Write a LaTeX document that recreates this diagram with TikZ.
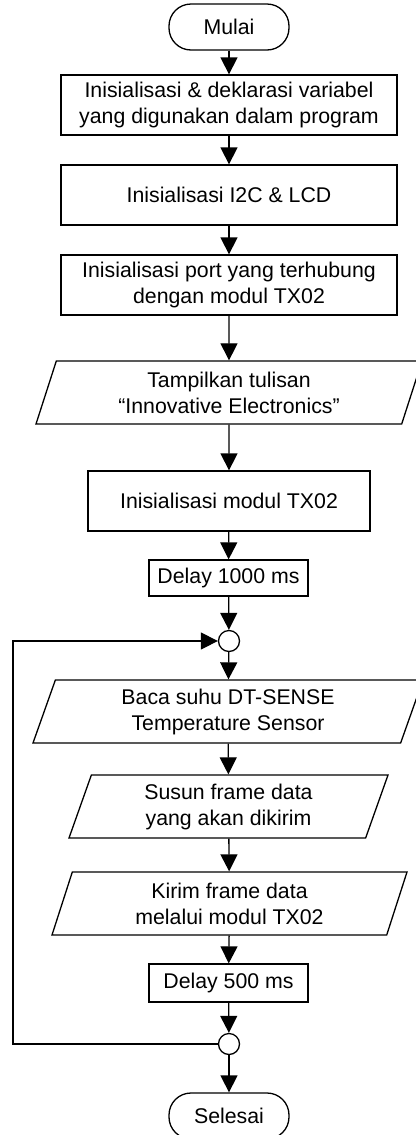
\documentclass[tikz,border=0pt]{standalone}
\usepackage{fontspec}
\setmainfont{Liberation Sans}
\usetikzlibrary{arrows.meta,shapes.geometric}
\begin{document}
\begin{tikzpicture}[x=1bp,y=-1bp,
  every node/.style={font=\fontsize{21.3bp}{26bp}\selectfont, align=center, inner sep=0pt, line width=1.3bp},
  proc/.style={draw, rectangle, minimum height=60bp},
  io/.style={draw, trapezium, trapezium left angle=64, trapezium right angle=116,
             trapezium stretches body, minimum height=63bp},
  term/.style={draw, rectangle, rounded corners=22bp, minimum width=120bp, minimum height=46bp},
  junc/.style={draw, circle, minimum size=21bp, fill=white},
  flow/.style={line width=1.3bp, -{Triangle[length=17bp,width=17bp]}},
]
\useasboundingbox (0,0) rectangle (415,1135);

% main sequence
\node[term] (start) at (229,27) {Mulai};
\node[proc, minimum width=336bp] (init) at (229,105) {Inisialisasi \& deklarasi variabel\\yang digunakan dalam program};
\node[proc, minimum width=336bp] (i2c) at (229,195) {Inisialisasi I2C \& LCD};
\node[proc, minimum width=336bp] (port) at (229,285) {Inisialisasi port yang terhubung\\dengan modul TX02};
\node[io, minimum width=386bp] (show) at (229,392.5) {Tampilkan tulisan\\“Innovative Electronics”};
\node[proc, minimum width=282bp] (tx) at (229,501) {Inisialisasi modul TX02};
\node[proc, minimum width=159bp, minimum height=36bp] (d1) at (228.5,578) {Delay 1000 ms};
\node[junc] (c1) at (229,641) {};
\node[io, minimum width=390bp] (read) at (228,711.5) {Baca suhu DT-SENSE\\Temperature Sensor};
\node[io, minimum width=319bp] (frame) at (228.5,806.5) {Susun frame data\\yang akan dikirim};
\node[io, minimum width=355bp] (send) at (229.5,903.5) {Kirim frame data\\melalui modul TX02};
\node[proc, minimum width=159bp, minimum height=38bp] (d2) at (228.5,983) {Delay 500 ms};
\node[junc] (c2) at (229,1044) {};
\node[term] (stop) at (229,1116) {Selesai};

% connectors
\draw[flow] (start) -- (init);
\draw[flow] (init) -- (i2c);
\draw[flow] (i2c) -- (port);
\draw[flow] (port) -- (show);
\draw[flow] (show) -- (tx);
\draw[flow] (tx) -- (d1);
\draw[flow] (d1) -- (c1);
\draw[flow] (c1) -- (read);
\draw[flow] (read) -- (frame);
\draw[flow] (frame) -- (send);
\draw[flow] (send) -- (d2);
\draw[flow] (d2) -- (c2);
\draw[flow] (c2) -- (stop);

% loop back
\coordinate (lp) at (13,1044);
\draw[flow] (c2.west) -- (lp) |- (c1.west);
\end{tikzpicture}
\end{document}
